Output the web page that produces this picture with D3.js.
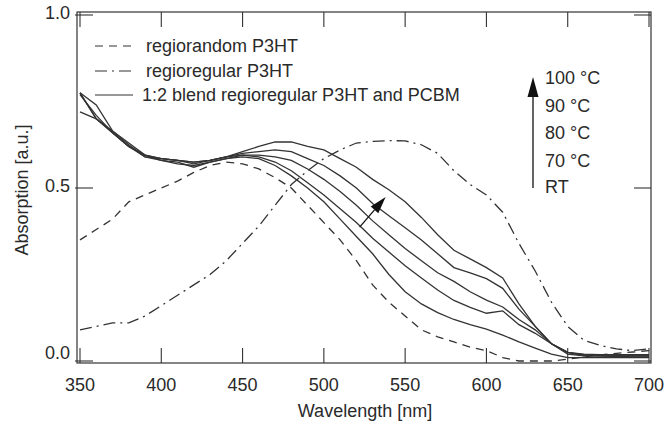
<!DOCTYPE html>
<html>
<head>
<meta charset="utf-8">
<script src="https://cdn.jsdelivr.net/npm/d3@7"></script>
<style>
  body { margin: 0; background: #fff; }
  text { font-family: "Liberation Sans", Arial, sans-serif; fill: #2a2a2a; }
</style>
</head>
<body>
<div id="chart"></div>
<script>
// wavelength grid (nm)
var wavelengths = [350, 360, 370, 380, 390, 400, 410, 420, 430, 440, 450, 460, 470, 480, 490, 500, 510, 520,
    530, 540, 550, 560, 570, 580, 590, 600, 610, 620, 630, 640, 650, 660, 670, 680, 690, 700];

var regiorandom = [0.35, 0.38, 0.41, 0.46, 0.48, 0.50, 0.52, 0.545, 0.565, 0.575, 0.57, 0.555, 0.53, 0.50, 0.45, 0.40,
    0.35, 0.29, 0.22, 0.17, 0.13, 0.09, 0.07, 0.055, 0.04, 0.03, 0.01, 0.0, 0.0, 0.0, 0.005, 0.012, 0.018, 0.022, 0.026, 0.03];

var regioregular = [0.09, 0.10, 0.11, 0.11, 0.13, 0.16, 0.19, 0.22, 0.25, 0.29, 0.34, 0.39, 0.45, 0.51, 0.55, 0.585,
    0.61, 0.63, 0.635, 0.637, 0.636, 0.625, 0.60, 0.55, 0.51, 0.48, 0.43, 0.34, 0.26, 0.17, 0.10, 0.06, 0.045, 0.035, 0.03, 0.035];

// 1:2 blends, RT -> 100 °C
var blendRT = [0.77, 0.71, 0.66, 0.62, 0.59, 0.58, 0.575, 0.56, 0.575, 0.585, 0.59, 0.585, 0.565, 0.535, 0.50, 0.46,
    0.41, 0.36, 0.31, 0.25, 0.20, 0.165, 0.14, 0.12, 0.105, 0.092, 0.075, 0.055, 0.037, 0.02, 0.01, 0.01, 0.01, 0.01, 0.01, 0.01];
var blend70 = [0.775, 0.70, 0.66, 0.62, 0.595, 0.58, 0.57, 0.565, 0.575, 0.585, 0.595, 0.59, 0.575, 0.55, 0.515, 0.48,
    0.44, 0.40, 0.355, 0.315, 0.275, 0.24, 0.205, 0.175, 0.155, 0.138, 0.145, 0.105, 0.08, 0.05, 0.025, 0.018, 0.015, 0.015, 0.015, 0.015];
var blend80 = [0.775, 0.70, 0.665, 0.625, 0.59, 0.585, 0.58, 0.57, 0.58, 0.59, 0.595, 0.595, 0.59, 0.58, 0.555, 0.525,
    0.49, 0.45, 0.405, 0.365, 0.325, 0.29, 0.255, 0.23, 0.20, 0.176, 0.156, 0.12, 0.09, 0.05, 0.02, 0.015, 0.015, 0.015, 0.015, 0.015];
var blend90 = [0.775, 0.74, 0.665, 0.63, 0.595, 0.585, 0.58, 0.575, 0.58, 0.59, 0.60, 0.605, 0.61, 0.605, 0.585, 0.565,
    0.535, 0.50, 0.455, 0.42, 0.385, 0.35, 0.31, 0.27, 0.255, 0.238, 0.21, 0.15, 0.10, 0.05, 0.025, 0.02, 0.018, 0.018, 0.018, 0.018];
var blend100 = [0.72, 0.70, 0.66, 0.62, 0.595, 0.585, 0.58, 0.575, 0.58, 0.59, 0.605, 0.62, 0.633, 0.633, 0.62, 0.61,
    0.585, 0.56, 0.525, 0.495, 0.46, 0.415, 0.365, 0.32, 0.295, 0.27, 0.24, 0.165, 0.10, 0.05, 0.025, 0.015, 0.015, 0.013, 0.012, 0.012];

var xTicks = [350, 400, 450, 500, 550, 600, 650, 700];
var yTicks = [0.0, 0.5, 1.0];
var legendLabels = ["regiorandom P3HT", "regioregular P3HT", "1:2 blend regioregular P3HT and PCBM"];
var tempLabels = ["100 °C", "90 °C", "80 °C", "70 °C", "RT"];

var width = 665, height = 430;
var ink = "#333";

var svg = d3.select("#chart").append("svg")
    .attr("width", width)
    .attr("height", height);

var x = d3.scaleLinear().domain([350, 700]).range([80, 649]);
var y = d3.scaleLinear().domain([0, 1]).range([361, 15]);

// frame
svg.append("rect")
    .attr("x", 77).attr("y", 12)
    .attr("width", 574).attr("height", 351)
    .attr("fill", "none").attr("stroke", ink).attr("stroke-width", 1.2);

// inward ticks on all four sides
var tickLen = 15;
xTicks.forEach(function (t) {
    svg.append("line").attr("x1", x(t)).attr("x2", x(t)).attr("y1", 363).attr("y2", 363 - tickLen)
        .attr("stroke", ink).attr("stroke-width", 1.1);
    svg.append("line").attr("x1", x(t)).attr("x2", x(t)).attr("y1", 12).attr("y2", 12 + tickLen)
        .attr("stroke", ink).attr("stroke-width", 1.1);
});
yTicks.forEach(function (t) {
    svg.append("line").attr("x1", 75).attr("x2", 77 + 16).attr("y1", y(t)).attr("y2", y(t))
        .attr("stroke", ink).attr("stroke-width", 1.1);
    svg.append("line").attr("x1", 651 - 17).attr("x2", 651).attr("y1", y(t)).attr("y2", y(t))
        .attr("stroke", ink).attr("stroke-width", 1.1);
});

// tick labels
svg.selectAll(".xlab").data(xTicks).enter().append("text")
    .attr("x", function (d) { return x(d); })
    .attr("y", 385)
    .attr("text-anchor", "middle")
    .attr("dominant-baseline", "central")
    .style("font-size", "18px")
    .text(function (d) { return d; });

// the 0.0 label sits a bit higher than its tick in the original
svg.selectAll(".ylab").data(yTicks).enter().append("text")
    .attr("x", 70)
    .attr("y", function (d) { return y(d) - (d === 0 ? 8 : 2); })
    .attr("text-anchor", "end")
    .attr("dominant-baseline", "central")
    .style("font-size", "18px")
    .text(function (d) { return d3.format(".1f")(d); });

// axis titles
svg.append("text")
    .attr("x", 365).attr("y", 411)
    .attr("text-anchor", "middle")
    .attr("dominant-baseline", "central")
    .style("font-size", "18px")
    .text("Wavelength [nm]");

svg.append("text")
    .attr("transform", "translate(22,190) rotate(-90)")
    .attr("text-anchor", "middle")
    .attr("dominant-baseline", "central")
    .style("font-size", "18px")
    .text("Absorption [a.u.]");

// curves
var line = d3.line()
    .x(function (d) { return x(d[0]); })
    .y(function (d) { return y(d[1]); });

function pairs(vals) { return wavelengths.map(function (w, i) { return [w, vals[i]]; }); }

var series = [
    { vals: regiorandom, dash: "8,6" },
    { vals: regioregular, dash: "12,5,2,5" },
    { vals: blendRT, dash: null },
    { vals: blend70, dash: null },
    { vals: blend80, dash: null },
    { vals: blend90, dash: null },
    { vals: blend100, dash: null }
];

svg.selectAll(".curve").data(series).enter().append("path")
    .attr("d", function (d) { return line(pairs(d.vals)); })
    .attr("fill", "none")
    .attr("stroke", ink)
    .attr("stroke-width", 1.3)
    .attr("stroke-dasharray", function (d) { return d.dash; });

// legend
var legendDash = ["8,6", "12,5,2,5", null];
var legendY = [46, 71, 95];
var legendTextX = [146, 146, 142];
legendLabels.forEach(function (lab, i) {
    svg.append("line")
        .attr("x1", 95).attr("x2", 133)
        .attr("y1", legendY[i]).attr("y2", legendY[i])
        .attr("stroke", ink).attr("stroke-width", 1.2)
        .attr("stroke-dasharray", legendDash[i]);
    svg.append("text")
        .attr("x", legendTextX[i]).attr("y", legendY[i])
        .attr("dominant-baseline", "central")
        .style("font-size", "18px")
        .text(lab);
});

// temperature annotation on the right
var tempY = [78, 106, 133, 161, 187];
tempLabels.forEach(function (lab, i) {
    svg.append("text")
        .attr("x", 545).attr("y", tempY[i])
        .attr("dominant-baseline", "central")
        .style("font-size", "18px")
        .text(lab);
});

function arrow(x1, y1, x2, y2, headLen, headW) {
    var dx = x2 - x1, dy = y2 - y1, len = Math.sqrt(dx * dx + dy * dy);
    var ux = dx / len, uy = dy / len;
    var bx = x2 - ux * headLen, by = y2 - uy * headLen;
    svg.append("line")
        .attr("x1", x1).attr("y1", y1).attr("x2", bx).attr("y2", by)
        .attr("stroke", "#111").attr("stroke-width", 1.3);
    svg.append("path")
        .attr("d", "M" + x2 + "," + y2 +
            "L" + (bx - uy * headW) + "," + (by + ux * headW) +
            "L" + (bx + uy * headW) + "," + (by - ux * headW) + "Z")
        .attr("fill", "#111");
}

arrow(533, 188, 533, 77, 20, 5.5);
arrow(x(522), y(0.387), x(538), y(0.474), 17, 5);
</script>
</body>
</html>
